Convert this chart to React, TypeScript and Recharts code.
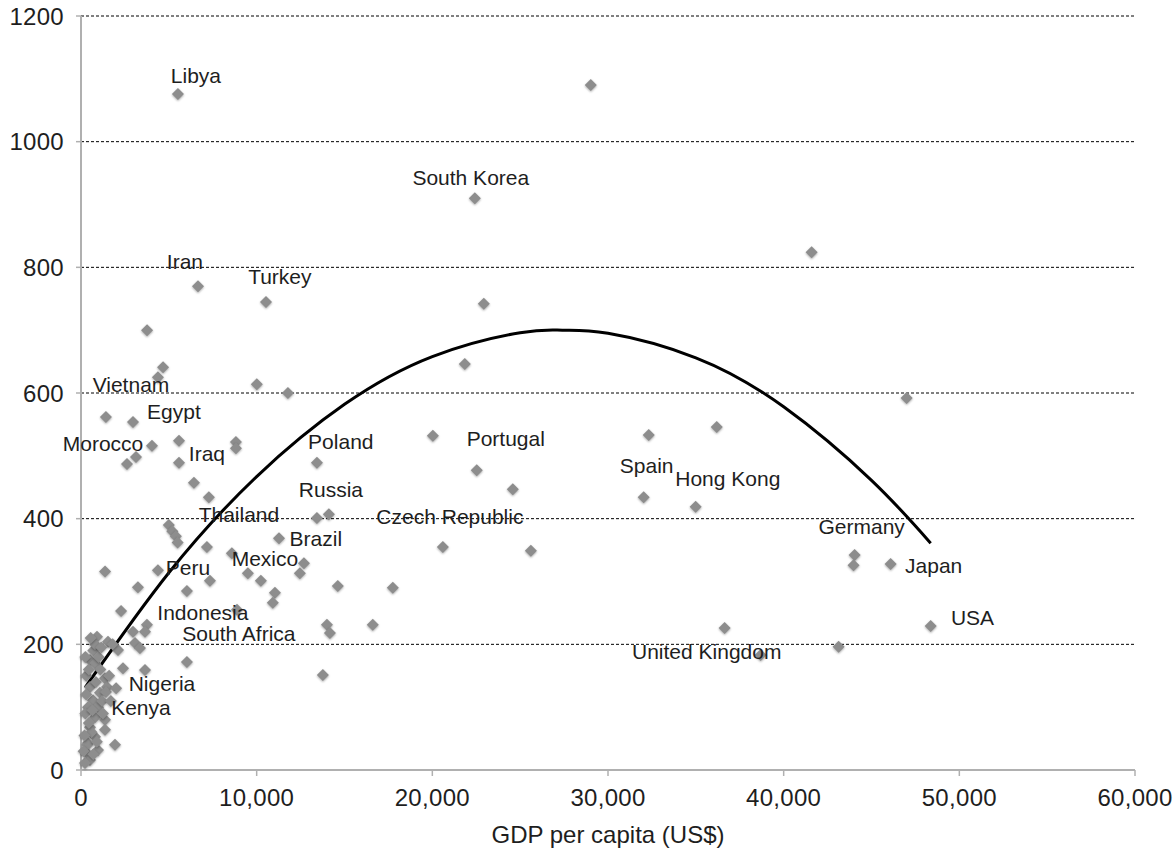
import {
  ComposedChart,
  Scatter,
  Line,
  XAxis,
  YAxis,
  CartesianGrid,
} from 'recharts'

// [GDP per capita (US$), value]
const countries: [number, number][] = [
  [5520, 1076], [29020, 1090], [22420, 910], [6660, 770], [10530, 745],
  [22930, 742], [41590, 824], [3760, 700], [4670, 641], [4380, 625],
  [10010, 614], [11780, 600], [21850, 646], [47000, 592],
  [1420, 562], [2960, 554], [4040, 516], [5580, 524], [3130, 498],
  [2620, 487], [5580, 489], [8820, 522], [8820, 512], [6430, 457],
  [7280, 434], [20030, 532], [13430, 489], [13430, 401], [14110, 407],
  [20600, 355], [11270, 369], [7170, 355], [12690, 329], [12460, 313],
  [9500, 313], [10240, 301], [7340, 301], [6030, 285], [14620, 293],
  [17750, 290], [11040, 282], [10920, 266], [14000, 231], [14170, 218],
  [16610, 231], [6030, 172], [13770, 151], [5000, 390], [5200, 380],
  [5400, 372], [5500, 362], [8590, 345], [8880, 255], [1370, 316],
  [4380, 318], [3240, 291], [2280, 253], [3755, 231], [3642, 220],
  [2959, 220], [910, 212], [1536, 204], [2105, 191], [3073, 202],
  [3357, 194], [512, 175], [797, 170], [2390, 162], [3642, 159],
  [1366, 146], [1479, 132], [683, 111], [398, 100], [967, 100],
  [797, 84], [1366, 80], [512, 68], [1366, 64], [797, 53],
  [398, 43], [1935, 40], [967, 32], [341, 27], [512, 16],
  [228, 11], [1081, 123], [512, 132], [1420, 124], [300, 150],
  [250, 90], [600, 60], [350, 40], [200, 55], [700, 190],
  [150, 30], [450, 75], [650, 95], [850, 140], [1100, 160],
  [1200, 110], [300, 120], [800, 200], [1000, 180], [1700, 110],
  [1600, 150], [250, 180], [550, 210], [1150, 195], [700, 25],
  [1800, 200], [2000, 130], [450, 160], [900, 45], [1250, 90],
  [22530, 477], [24580, 447], [25610, 349], [32320, 533], [32030, 434],
  [36190, 546], [34990, 419], [36640, 226], [38690, 183], [43130, 196],
  [44040, 342], [43980, 326], [46090, 328], [48370, 229],
]

const labelNames = [
  'Libya', 'South Korea', 'Iran', 'Turkey', 'Vietnam', 'Egypt', 'Morocco',
  'Iraq', 'Poland', 'Portugal', 'Russia', 'Spain', 'Hong Kong', 'Thailand',
  'Czech Republic', 'Brazil', 'Germany', 'Mexico', 'Peru', 'Japan',
  'Indonesia', 'USA', 'South Africa', 'United Kingdom', 'Nigeria', 'Kenya',
]
const labelGdp = [
  6544, 22190, 5918, 11320, 2845, 5292, 1252,
  7170, 14790, 24180, 14230, 32200, 36820, 8990,
  21000, 13370, 44440, 10470, 6090, 48540,
  6940, 50750, 8990, 35620, 4610, 3410,
]
const labelValue = [
  1106, 943, 810, 786, 613, 570, 520,
  504, 523, 527, 447, 485, 464, 406,
  403, 369, 387, 337, 323, 326,
  250, 242, 217, 189, 138, 100,
]

// quadratic trend, read along its length
const trendGdp = [230, 5000, 10000, 15000, 20000, 25000, 27400, 30000, 35000, 40000, 45000, 48370]
const trendValue = [131, 314, 467, 582, 658, 696, 700, 695, 656, 578, 461, 361]

const xTicks = [0, 10000, 20000, 30000, 40000, 50000, 60000]
const yTicks = [0, 200, 400, 600, 800, 1000, 1200]

const points = countries.map(([x, y]) => ({ x, y }))
const labels = labelNames.map((name, i) => ({ name, x: labelGdp[i], y: labelValue[i] }))
const trend = trendGdp.map((x, i) => ({ x, y: trendValue[i] }))

const FONT = '"Liberation Sans", Arial, Helvetica, sans-serif'
const AXIS = '#b0b0b0'
const TEXT = '#1e1e1e'

const Diamond = (props: any) => {
  const { cx, cy } = props
  const r = 6
  return (
    <polygon
      points={`${cx},${cy - r} ${cx + r},${cy} ${cx},${cy + r} ${cx - r},${cy}`}
      fill="#8d8d8d"
      style={{ filter: 'drop-shadow(0.5px 1px 1.2px rgba(0,0,0,0.35))' }}
    />
  )
}

const CountryLabel = (props: any) => {
  const { cx, cy, payload } = props
  return (
    <text
      x={cx}
      y={cy}
      textAnchor="middle"
      dominantBaseline="central"
      fontSize={21}
      fontFamily={FONT}
      fill={TEXT}
    >
      {payload.name}
    </text>
  )
}

const fmt = (v: number) => v.toLocaleString('en-US')
const tickStyle = { fontSize: 24, fill: TEXT, fontFamily: FONT, letterSpacing: 0.3 }

export default function App() {
  return (
    <div style={{ position: 'absolute', left: 0, top: 0, background: '#fff', fontFamily: FONT }}>
      <ComposedChart width={1173} height={849} margin={{ top: 16, right: 38, left: 0, bottom: 0 }}>
        <CartesianGrid
          horizontal
          vertical={false}
          stroke="#000"
          strokeWidth={1}
          strokeDasharray="3 2"
        />
        <XAxis
          type="number"
          dataKey="x"
          domain={[0, 60000]}
          ticks={xTicks}
          tickFormatter={fmt}
          height={79}
          tickSize={6}
          tickMargin={13}
          stroke={AXIS}
          axisLine={{ stroke: AXIS, strokeWidth: 2 }}
          tickLine={{ stroke: AXIS, strokeWidth: 1.5 }}
          tick={tickStyle}
          label={{
            value: 'GDP per capita (US$)',
            position: 'insideBottom',
            offset: 6,
            fontSize: 24,
            fill: TEXT,
            fontFamily: FONT,
          }}
        />
        <YAxis
          type="number"
          dataKey="y"
          domain={[0, 1200]}
          ticks={yTicks}
          width={81}
          tickSize={5}
          tickMargin={12}
          axisLine={{ stroke: AXIS, strokeWidth: 2 }}
          tickLine={{ stroke: AXIS, strokeWidth: 1.5 }}
          tick={tickStyle}
        />
        <Scatter data={points} dataKey="y" shape={Diamond} isAnimationActive={false} />
        <Line
          data={trend}
          dataKey="y"
          type="natural"
          stroke="#000"
          strokeWidth={3}
          dot={false}
          activeDot={false}
          isAnimationActive={false}
        />
        <Scatter data={labels} dataKey="y" shape={CountryLabel} isAnimationActive={false} />
      </ComposedChart>
    </div>
  )
}
